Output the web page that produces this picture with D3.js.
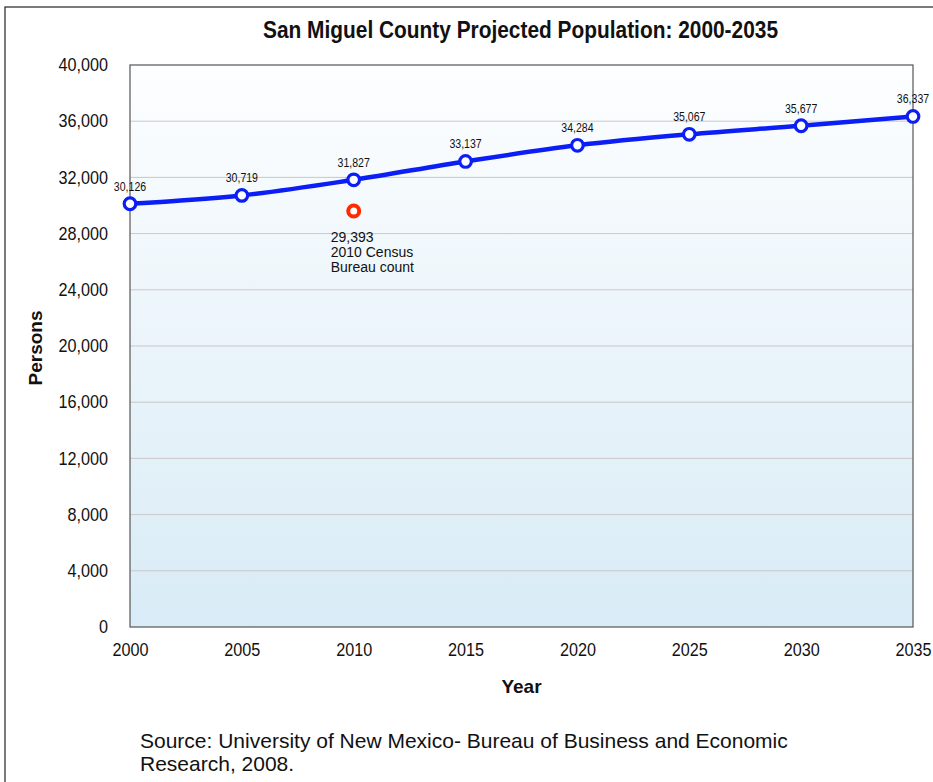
<!DOCTYPE html>
<html><head><meta charset="utf-8">
<script src="https://cdn.jsdelivr.net/npm/d3@7"></script>
<style>body{margin:0;background:#fff}svg{display:block}</style>
</head><body>
<svg id="c" width="933" height="782"></svg>
<script>
const years = [2000, 2005, 2010, 2015, 2020, 2025, 2030, 2035];
const population = [30126, 30719, 31827, 33137, 34284, 35067, 35677, 36337];
const censusYear = [2010];
const censusValue = [29393];
const yTicks = [0, 4000, 8000, 12000, 16000, 20000, 24000, 28000, 32000, 36000, 40000];

const svg = d3.select("#c");
const font = "'Liberation Sans', Arial, sans-serif";
const L = 130, R = 913, T = 65, B = 627;

svg.append("rect").attr("x", 5).attr("y", 7).attr("width", 940).attr("height", 790)
  .attr("fill", "#fff").attr("stroke", "#333").attr("stroke-width", 1.3);

const defs = svg.append("defs");
const g = defs.append("linearGradient").attr("id", "bg").attr("x1", 0).attr("y1", 0).attr("x2", 0).attr("y2", 1);
g.append("stop").attr("offset", "0%").attr("stop-color", "#fdfeff");
g.append("stop").attr("offset", "100%").attr("stop-color", "#d8ebf6");

const x = d3.scaleLinear().domain([2000, 2035]).range([L, R]);
const y = d3.scaleLinear().domain([0, 40000]).range([B, T]);

svg.append("rect").attr("x", L).attr("y", T).attr("width", R - L).attr("height", B - T).attr("fill", "url(#bg)");

svg.append("g").selectAll("line").data(yTicks.filter(d => d > 0 && d < 40000)).join("line")
  .attr("x1", L).attr("x2", R).attr("y1", d => y(d)).attr("y2", d => y(d))
  .attr("stroke", "#c8c8c8").attr("stroke-width", 1);

svg.append("rect").attr("x", L).attr("y", T).attr("width", R - L).attr("height", B - T)
  .attr("fill", "none").attr("stroke", "#555").attr("stroke-width", 1.2);

const sx = 0.9;
const yAxis = svg.append("g").attr("transform", `translate(${L},0)`)
  .call(d3.axisLeft(y).tickValues(yTicks).tickSize(0).tickPadding(22 / sx).tickFormat(d3.format(",")));
yAxis.select(".domain").remove();
yAxis.selectAll("text").attr("font-family", font).attr("font-size", 18).attr("fill", "#111")
  .attr("transform", `scale(${sx},1)`);

const xAxis = svg.append("g").attr("transform", `translate(0,${B})`)
  .call(d3.axisBottom(x).tickValues(years).tickSize(0).tickPadding(16).tickFormat(d3.format("d")));
xAxis.select(".domain").remove();
xAxis.selectAll("text").attr("font-family", font).attr("font-size", 18).attr("fill", "#111")
  .attr("transform", `scale(${sx},1)`);

const pts = years.map((yr, i) => [yr, population[i]]);
svg.append("path").datum(pts)
  .attr("d", d3.line().x(d => x(d[0])).y(d => y(d[1])).curve(d3.curveCatmullRom.alpha(0.5)))
  .attr("fill", "none").attr("stroke", "#0a1ef5").attr("stroke-width", 4.5);

svg.append("g").selectAll("circle").data(pts).join("circle")
  .attr("cx", d => x(d[0])).attr("cy", d => y(d[1])).attr("r", 5.8)
  .attr("fill", "#fff").attr("stroke", "#0a1ef5").attr("stroke-width", 3.2);

svg.append("g").selectAll("text").data(pts).join("text")
  .attr("transform", d => `translate(${x(d[0])},${y(d[1]) - 13}) scale(0.88,1)`)
  .attr("text-anchor", "middle").attr("font-family", font).attr("font-size", 12).attr("fill", "#111")
  .text(d => d3.format(",")(d[1]));

svg.append("g").selectAll("circle").data(censusYear.map((yr, i) => [yr, censusValue[i]])).join("circle")
  .attr("cx", d => x(d[0])).attr("cy", d => y(d[1]) - 3).attr("r", 5.5)
  .attr("fill", "#fff").attr("stroke", "#ff2a00").attr("stroke-width", 4);

const ann = svg.append("text").attr("font-family", font).attr("font-size", 14).attr("fill", "#111");
const ax = x(censusYear[0]) - 23;
ann.append("tspan").attr("x", ax).attr("y", 242).text(d3.format(",")(censusValue[0]));
ann.append("tspan").attr("x", ax).attr("y", 257).text("2010 Census");
ann.append("tspan").attr("x", ax).attr("y", 272).text("Bureau count");

svg.append("text").attr("x", 263).attr("y", 38)
  .attr("textLength", 515).attr("lengthAdjust", "spacingAndGlyphs")
  .attr("font-family", font).attr("font-weight", "bold").attr("font-size", 23).attr("fill", "#111")
  .text("San Miguel County Projected Population: 2000-2035");

svg.append("text").attr("x", (L + R) / 2).attr("y", 693).attr("text-anchor", "middle")
  .attr("font-family", font).attr("font-weight", "bold").attr("font-size", 19).attr("fill", "#111")
  .text("Year");

svg.append("text").attr("transform", `translate(42,${(T + B) / 2 + 2}) rotate(-90)`).attr("text-anchor", "middle")
  .attr("font-family", font).attr("font-weight", "bold").attr("font-size", 19).attr("fill", "#111")
  .text("Persons");

const src = svg.append("text").attr("font-family", font).attr("font-size", 21).attr("fill", "#111");
src.append("tspan").attr("x", 140).attr("y", 748).text("Source: University of New Mexico- Bureau of Business and Economic");
src.append("tspan").attr("x", 140).attr("y", 771).text("Research, 2008.");
</script>
</body></html>
